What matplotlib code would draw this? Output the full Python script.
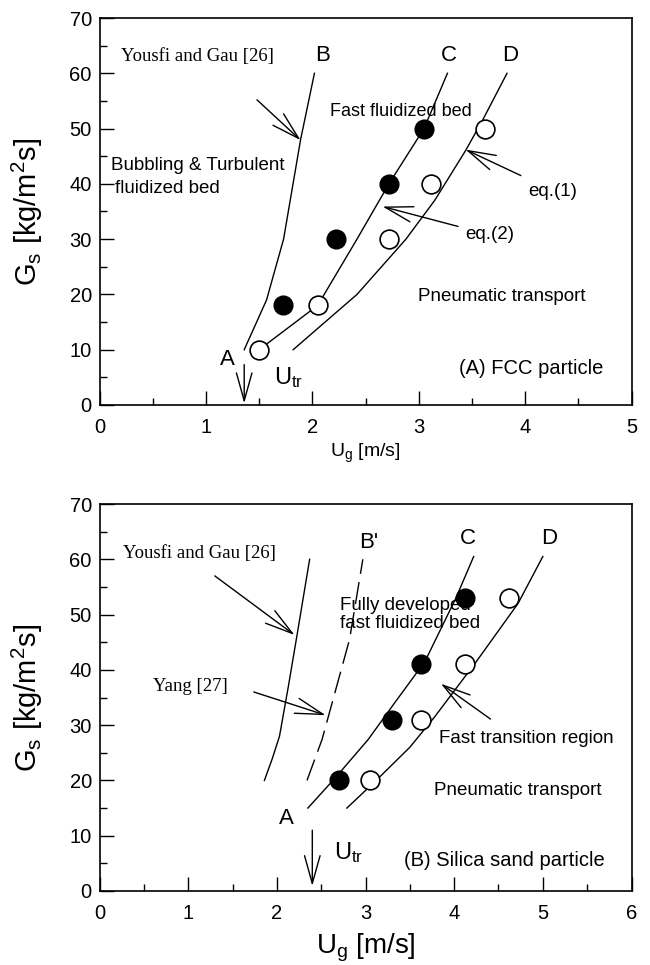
import matplotlib
matplotlib.use('Agg')
import matplotlib.pyplot as plt
from matplotlib.ticker import MultipleLocator

# ---------------- data : (A) FCC particle ----------------
fcc_filled_ug = [1.72, 2.22, 2.72, 3.05]
fcc_filled_gs = [18, 30, 40, 50]
fcc_open_ug = [1.50, 2.05, 2.72, 3.12, 3.62]
fcc_open_gs = [10, 18, 30, 40, 50]
fcc_B_ug = [1.36, 1.57, 1.73, 1.81, 1.89, 2.02]
fcc_B_gs = [10, 19, 30, 39, 48, 60]
fcc_C_ug = [1.50, 2.05, 2.42, 2.72, 3.05, 3.27]
fcc_C_gs = [10, 18, 30, 40, 50, 60]
fcc_D_ug = [1.82, 2.42, 2.88, 3.15, 3.44, 3.60, 3.83]
fcc_D_gs = [10, 20, 30, 37, 46, 51.5, 60]

# ---------------- data : (B) Silica sand particle ----------------
sand_filled_ug = [2.70, 3.30, 3.63, 4.12]
sand_filled_gs = [20, 31, 41, 53]
sand_open_ug = [3.05, 3.63, 4.12, 4.62]
sand_open_gs = [20, 31, 41, 53]
sand_yousfi_ug = [1.86, 1.95, 2.03, 2.13, 2.23, 2.37]
sand_yousfi_gs = [20, 24, 28, 37, 46.5, 60]
sand_yang_ug = [2.34, 2.51, 2.82, 2.97]
sand_yang_gs = [20, 27.4, 45.5, 60]
sand_C_ug = [2.35, 2.65, 3.03, 3.35, 3.67, 4.02, 4.22]
sand_C_gs = [15, 20.3, 27.4, 34.5, 41.5, 53, 60.5]
sand_D_ug = [2.79, 3.12, 3.50, 3.78, 4.25, 4.72, 5.00]
sand_D_gs = [15, 20, 26, 31.5, 41.5, 52, 60.5]

xticks_top = [0, 1, 2, 3, 4, 5]
xticks_bot = [0, 1, 2, 3, 4, 5, 6]
yticks = [0, 10, 20, 30, 40, 50, 60, 70]

plt.rcParams['font.family'] = ['Liberation Sans', 'DejaVu Sans']
plt.rcParams['mathtext.fontset'] = 'custom'
plt.rcParams['mathtext.rm'] = 'Liberation Sans'
plt.rcParams['mathtext.it'] = 'Liberation Sans:italic'
plt.rcParams['mathtext.bf'] = 'Liberation Sans:bold'

SERIF = ['Liberation Serif', 'DejaVu Serif']

fig = plt.figure(figsize=(6.5, 9.65), dpi=100)
W, H = 650.0, 965.0
AX_L, AX_W, AX_H = 99.5, 532.0, 387.0
ax1 = fig.add_axes([AX_L / W, 1 - 405 / H, AX_W / W, AX_H / H])
ax2 = fig.add_axes([AX_L / W, 1 - 891 / H, AX_W / W, AX_H / H])

LW = 1.0
MS = 13.5


def style(ax, xmax, xticks):
    ax.set_xlim(0, xmax)
    ax.set_ylim(0, 70)
    ax.set_xticks(xticks)
    ax.set_yticks(yticks)
    ax.xaxis.set_minor_locator(MultipleLocator(0.5))
    ax.yaxis.set_minor_locator(MultipleLocator(5))
    ax.tick_params(which='both', direction='in', top=False, right=False,
                   width=1.0, labelsize=14.5)
    ax.tick_params(which='major', length=10.3)
    ax.tick_params(which='minor', length=5.3)
    ax.tick_params(axis='x', pad=9.5)
    ax.tick_params(axis='y', pad=5.5)
    for s in ax.spines.values():
        s.set_linewidth(1.2)


def arrow(ax, tail, tip, hl=1.0, hw=0.28):
    ax.annotate('', xy=tip, xytext=tail,
                arrowprops=dict(arrowstyle=f'->,head_length={hl},head_width={hw}',
                                lw=LW, color='black', shrinkA=0, shrinkB=0,
                                mutation_scale=20))


def points(ax, xf, yf, xo, yo):
    ax.plot(xf, yf, 'o', ms=MS, mfc='black', mec='black', zorder=5)
    ax.plot(xo, yo, 'o', ms=MS, mfc='white', mec='black', mew=1.2, zorder=5)


# ---------------- top panel ----------------
style(ax1, 5, xticks_top)
ax1.plot(fcc_B_ug, fcc_B_gs, color='black', lw=LW)
ax1.plot(fcc_C_ug, fcc_C_gs, color='black', lw=LW)
ax1.plot(fcc_D_ug, fcc_D_gs, color='black', lw=LW)
points(ax1, fcc_filled_ug, fcc_filled_gs, fcc_open_ug, fcc_open_gs)

ax1.text(0.2, 63, 'Yousfi and Gau [26]', family=SERIF, fontsize=13.5, ha='left', va='center')
ax1.text(2.10, 63.3, 'B', fontsize=16, ha='center', va='center')
ax1.text(3.28, 63.3, 'C', fontsize=16, ha='center', va='center')
ax1.text(3.86, 63.3, 'D', fontsize=16, ha='center', va='center')
arrow(ax1, (1.48, 55.2), (1.89, 47.9))
ax1.text(2.17, 53.1, 'Fast fluidized bed', fontsize=13, ha='left', va='center')
ax1.text(0.105, 43.4, 'Bubbling & Turbulent', fontsize=13.5, ha='left', va='center')
ax1.text(0.145, 39.1, 'fluidized bed', fontsize=13.5, ha='left', va='center')
ax1.text(4.26, 38.7, 'eq.(1)', fontsize=13.5, ha='center', va='center')
arrow(ax1, (3.96, 41.5), (3.44, 46.2))
ax1.text(3.67, 30.8, 'eq.(2)', fontsize=13.5, ha='center', va='center')
arrow(ax1, (3.37, 32.3), (2.66, 35.9))
ax1.text(3.78, 19.6, 'Pneumatic transport', fontsize=13.5, ha='center', va='center')
ax1.text(4.06, 6.65, '(A) FCC particle', fontsize=14.5, ha='center', va='center')
ax1.text(1.2, 8.2, 'A', fontsize=16, ha='center', va='center')
arrow(ax1, (1.36, 7.3), (1.36, 0.3))
ax1.text(1.64, 5.0, r'$\mathrm{U_{tr}}$', fontsize=17, ha='left', va='center')

ax1.set_xlabel(r'$\mathrm{U_g}$ [m/s]', fontsize=14, labelpad=3)
ax1.set_ylabel(r'$\mathrm{G_s\ [kg/m^2s]}$', fontsize=21)
ax1.yaxis.set_label_coords(-0.102, 0.5)

# ---------------- bottom panel ----------------
style(ax2, 6, xticks_bot)
ax2.plot(sand_yousfi_ug, sand_yousfi_gs, color='black', lw=LW)
ax2.plot(sand_yang_ug, sand_yang_gs, color='black', lw=LW, dashes=(16, 6))
ax2.plot(sand_C_ug, sand_C_gs, color='black', lw=LW)
ax2.plot(sand_D_ug, sand_D_gs, color='black', lw=LW)
points(ax2, sand_filled_ug, sand_filled_gs, sand_open_ug, sand_open_gs)

ax2.text(0.27, 61, 'Yousfi and Gau [26]', family=SERIF, fontsize=13.5, ha='left', va='center')
arrow(ax2, (1.30, 57), (2.20, 46.3))
ax2.text(3.04, 63.1, "B'", fontsize=16, ha='center', va='center')
ax2.text(4.15, 63.7, 'C', fontsize=16, ha='center', va='center')
ax2.text(5.07, 63.7, 'D', fontsize=16, ha='center', va='center')
ax2.text(2.71, 51.6, 'Fully developed', fontsize=13.5, ha='left', va='center')
ax2.text(2.71, 48.4, 'fast fluidized bed', fontsize=13.5, ha='left', va='center')
ax2.text(0.60, 36.9, 'Yang [27]', family=SERIF, fontsize=13.5, ha='left', va='center')
arrow(ax2, (1.74, 36), (2.55, 31.8))
ax2.text(3.83, 27.5, 'Fast transition region', fontsize=13.5, ha='left', va='center')
arrow(ax2, (4.41, 31.1), (3.85, 37.5))
ax2.text(3.77, 18.1, 'Pneumatic transport', fontsize=13.5, ha='left', va='center')
ax2.text(2.11, 13.1, 'A', fontsize=16, ha='center', va='center')
arrow(ax2, (2.40, 11), (2.40, 0.9))
ax2.text(2.65, 7.0, r'$\mathrm{U_{tr}}$', fontsize=17, ha='left', va='center')
ax2.text(3.43, 5.5, '(B) Silica sand particle', fontsize=14.5, ha='left', va='center')

ax2.set_xlabel(r'$\mathrm{U_g}$ [m/s]', fontsize=20, labelpad=6)
ax2.set_ylabel(r'$\mathrm{G_s\ [kg/m^2s]}$', fontsize=21)
ax2.yaxis.set_label_coords(-0.102, 0.5)

fig.savefig('out.png', dpi=100)
